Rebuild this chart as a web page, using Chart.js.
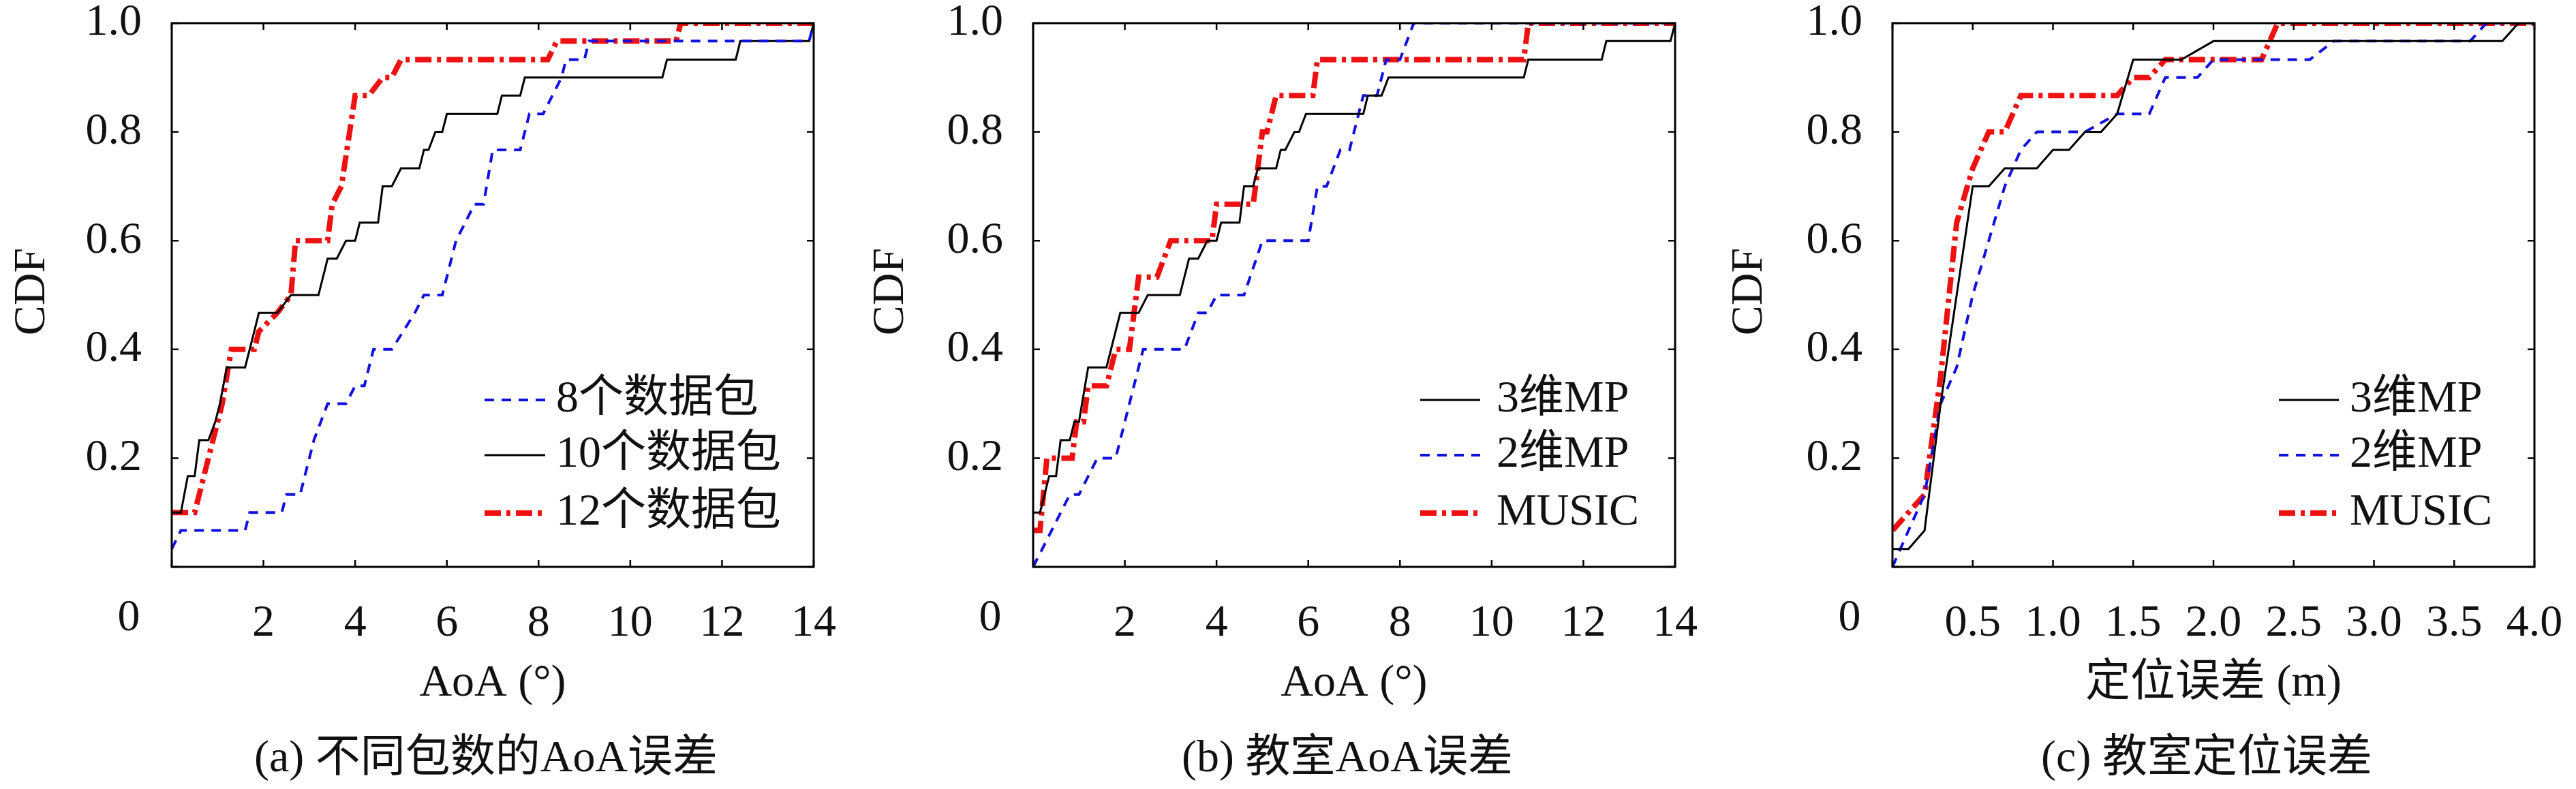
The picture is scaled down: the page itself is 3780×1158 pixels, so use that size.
<!DOCTYPE html>
<html lang="zh">
<head>
<meta charset="UTF-8">
<title>CDF</title>
<script src="https://cdn.jsdelivr.net/npm/chart.js"></script>
<style>
  body { margin: 0; background: #fff; }
  .wrap { position: relative; width: 3780px; height: 1158px; }
  .wrap div { position: absolute; top: 0; width: 1260px; height: 1158px; }
</style>
</head>
<body>
<div class="wrap">
  <div style="left:0"><canvas id="c1"></canvas></div>
  <div style="left:1260px"><canvas id="c2"></canvas></div>
  <div style="left:2520px"><canvas id="c3"></canvas></div>
</div>
<script>
// (a) 不同包数
const a8x  = [0,0.2,1.6,1.7,2.4,2.5,2.8,3.1,3.4,3.8,4.0,4.2,4.4,4.8,5.3,5.5,5.9,6.2,6.4,6.6,6.8,7.0,7.6,7.8,8.1,8.5,8.6,9.0,9.1,13.9,14];
const a8y  = [0.033,0.067,0.067,0.1,0.1,0.133,0.133,0.233,0.3,0.3,0.333,0.333,0.4,0.4,0.467,0.5,0.5,0.6,0.633,0.667,0.667,0.767,0.767,0.833,0.833,0.9,0.933,0.933,0.967,0.967,1.0];
const a10x = [0,0.2,0.35,0.5,0.6,0.8,0.95,1.05,1.2,1.6,1.8,1.9,2.3,2.6,3.2,3.4,3.6,3.8,4.0,4.1,4.5,4.6,4.8,5.0,5.4,5.5,5.6,5.75,5.9,6.0,7.1,7.2,7.6,7.7,10.7,10.8,12.3,12.4,13.9,14];
const a10y = [0.1,0.1,0.167,0.167,0.233,0.233,0.267,0.3,0.367,0.367,0.433,0.467,0.467,0.5,0.5,0.567,0.567,0.6,0.6,0.633,0.633,0.7,0.7,0.733,0.733,0.767,0.767,0.8,0.8,0.833,0.833,0.867,0.867,0.9,0.9,0.933,0.933,0.967,0.967,1.0];
const a12x = [0,0.5,1.1,1.3,1.8,1.9,2.3,2.6,2.7,3.4,3.5,3.7,4.0,4.3,4.6,4.8,5.0,8.2,8.4,11.0,11.1,14];
const a12y = [0.1,0.1,0.3,0.4,0.4,0.433,0.467,0.5,0.6,0.6,0.667,0.7,0.867,0.867,0.9,0.9,0.933,0.933,0.967,0.967,1.0,1.0];
// (b) 教室AoA
const b3x = [0,0.15,0.35,0.5,0.6,0.8,0.9,1.0,1.2,1.6,1.9,2.3,2.5,3.2,3.4,3.6,3.8,4.0,4.1,4.5,4.6,4.8,4.9,5.3,5.4,5.5,5.7,5.8,5.95,7.2,7.3,7.6,7.75,10.7,10.8,12.4,12.5,13.9,14];
const b3y = [0.1,0.1,0.167,0.167,0.233,0.233,0.267,0.267,0.367,0.367,0.467,0.467,0.5,0.5,0.567,0.567,0.6,0.6,0.633,0.633,0.7,0.7,0.733,0.733,0.767,0.767,0.8,0.8,0.833,0.833,0.867,0.867,0.9,0.9,0.933,0.933,0.967,0.967,1.0];
const b2x = [0,0.2,0.8,1.0,1.4,1.8,2.1,2.4,3.3,3.6,3.8,4.0,4.6,5.0,6.0,6.2,6.4,6.7,6.9,7.2,7.5,7.7,8.0,8.3,14];
const b2y = [0,0.033,0.133,0.133,0.2,0.2,0.3,0.4,0.4,0.467,0.467,0.5,0.5,0.6,0.6,0.7,0.7,0.767,0.767,0.867,0.867,0.933,0.933,1.0,1.0];
const bMx = [0,0.15,0.3,0.85,0.95,1.1,1.2,1.6,1.8,2.1,2.3,2.7,3.0,3.9,4.0,4.8,5.0,5.1,5.3,6.1,6.2,10.7,10.8,14];
const bMy = [0.067,0.067,0.2,0.2,0.267,0.267,0.333,0.333,0.4,0.4,0.533,0.533,0.6,0.6,0.667,0.667,0.8,0.8,0.867,0.867,0.933,0.933,1.0,1.0];
// (c) 教室定位
const c3x = [0,0.1,0.2,0.3,0.5,0.6,0.7,0.9,1.0,1.1,1.2,1.3,1.4,1.5,1.8,2.0,3.8,3.9,4];
const c3y = [0.033,0.033,0.067,0.3,0.7,0.7,0.733,0.733,0.767,0.767,0.8,0.8,0.833,0.933,0.933,0.967,0.967,1.0,1.0];
const c2x = [0,0.1,0.2,0.3,0.4,0.5,0.7,0.8,0.9,1.2,1.4,1.6,1.7,1.9,2.0,2.6,2.75,3.6,3.7,4];
const c2y = [0,0.067,0.133,0.3,0.367,0.5,0.7,0.767,0.8,0.8,0.833,0.833,0.9,0.9,0.933,0.933,0.967,0.967,1.0,1.0];
const cMx = [0,0.1,0.2,0.3,0.4,0.5,0.6,0.7,0.8,1.4,1.5,1.6,1.7,2.3,2.4,4];
const cMy = [0.067,0.1,0.133,0.35,0.633,0.733,0.8,0.8,0.867,0.867,0.9,0.9,0.933,0.933,1.0,1.0];

const yTicks = [0, 0.2, 0.4, 0.6, 0.8, 1.0];

const FONT = "'Liberation Serif', 'Noto Sans CJK SC', serif";
const FS = 66;
const SOLID = { color: '#000', width: 3, dash: [] };
const BLUE = { color: '#1010e0', width: 4, dash: [14, 11] };
const RED = { color: '#ee1111', width: 8, dash: [24, 8, 6, 8] };

const pts = (xs, ys) => xs.map((x, i) => ({ x, y: ys[i] }));

function makePanel(id, opts) {
  const datasets = opts.series.map(s => ({
    label: s.label,
    data: pts(s.x, s.y),
    borderColor: s.style.color,
    borderWidth: s.style.width,
    borderDash: s.style.dash,
    pointRadius: 0,
    fill: false,
    tension: 0
  }));
  const deco = {
    id: 'deco',
    afterDatasetsDraw(chart) {
      const { ctx, chartArea: a, scales } = chart;
      ctx.save();
      ctx.setLineDash([]);
      ctx.strokeStyle = '#000';
      ctx.lineWidth = 3;
      ctx.strokeRect(a.left, a.top, a.right - a.left, a.bottom - a.top);
      ctx.lineWidth = 2.5;
      scales.x.ticks.forEach(t => {
        const p = scales.x.getPixelForValue(t.value);
        ctx.beginPath();
        ctx.moveTo(p, a.bottom); ctx.lineTo(p, a.bottom - 10);
        ctx.moveTo(p, a.top); ctx.lineTo(p, a.top + 10);
        ctx.stroke();
      });
      yTicks.forEach(v => {
        const p = scales.y.getPixelForValue(v);
        ctx.beginPath();
        ctx.moveTo(a.left, p); ctx.lineTo(a.left + 10, p);
        ctx.moveTo(a.right, p); ctx.lineTo(a.right - 10, p);
        ctx.stroke();
      });
      ctx.fillStyle = '#111';
      ctx.font = FS + 'px ' + FONT;
      ctx.textAlign = 'center';
      ctx.textBaseline = 'middle';
      ctx.fillText('0', a.left - 63, 908);
      ctx.fillText(opts.xTitle, (a.left + a.right) / 2, 1004);
      ctx.fillText(opts.caption, (a.left + a.right) / 2 - 10, 1115);
      ctx.save();
      ctx.translate(48, 428);
      ctx.rotate(-Math.PI / 2);
      ctx.fillText('CDF', 0, 0);
      ctx.restore();
      // legend
      const L = opts.legend;
      ctx.textAlign = 'left';
      opts.series.forEach((s, i) => {
        const y = L.rows[i];
        ctx.strokeStyle = s.style.color;
        ctx.lineWidth = s.style.width;
        ctx.setLineDash(s.style.dash);
        ctx.beginPath();
        ctx.moveTo(L.x0, y); ctx.lineTo(L.x1, y);
        ctx.stroke();
        ctx.setLineDash([]);
        ctx.fillText(s.label, L.tx, y);
      });
      ctx.restore();
    }
  };
  new Chart(document.getElementById(id), {
    type: 'line',
    data: { datasets },
    options: {
      responsive: true,
      maintainAspectRatio: false,
      animation: false,
      layout: { padding: { top: 34, right: opts.padRight, bottom: 0, left: 0 } },
      plugins: { legend: { display: false }, tooltip: { enabled: false } },
      scales: {
        x: {
          type: 'linear', min: 0, max: opts.xMax,
          grid: { display: false, drawTicks: false },
          border: { display: false },
          ticks: {
            stepSize: opts.xStep, padding: 44, maxRotation: 0,
            color: '#111', font: { family: FONT, size: FS },
            callback: v => v === 0 ? '' : (opts.xStep < 1 ? v.toFixed(1) : String(v))
          },
          afterFit: s => { s.height = 326; s.paddingLeft = 0; s.paddingRight = 0; }
        },
        y: {
          min: 0, max: 1,
          grid: { display: false, drawTicks: false },
          border: { display: false },
          ticks: {
            stepSize: 0.2, padding: 44,
            color: '#111', font: { family: FONT, size: FS },
            callback: v => v === 0 ? '' : v.toFixed(1)
          },
          afterFit: s => { s.width = opts.axisLeft; s.paddingTop = 0; s.paddingBottom = 0; }
        }
      }
    },
    plugins: [deco]
  });
}

const rows = [587, 668, 753];

makePanel('c1', {
  axisLeft: 252, padRight: 66, xMax: 14, xStep: 2,
  xTitle: 'AoA (°)', caption: '(a) 不同包数的AoA误差',
  legend: { x0: 711, x1: 800, tx: 816, rows },
  series: [
    { label: '8个数据包', x: a8x, y: a8y, style: BLUE },
    { label: '10个数据包', x: a10x, y: a10y, style: SOLID },
    { label: '12个数据包', x: a12x, y: a12y, style: RED }
  ]
});
makePanel('c2', {
  axisLeft: 256, padRight: 62, xMax: 14, xStep: 2,
  xTitle: 'AoA (°)', caption: '(b) 教室AoA误差',
  legend: { x0: 824, x1: 912, tx: 936, rows },
  series: [
    { label: '3维MP', x: b3x, y: b3y, style: SOLID },
    { label: '2维MP', x: b2x, y: b2y, style: BLUE },
    { label: 'MUSIC', x: bMx, y: bMy, style: RED }
  ]
});
makePanel('c3', {
  axisLeft: 257, padRight: 61, xMax: 4, xStep: 0.5,
  xTitle: '定位误差 (m)', caption: '(c) 教室定位误差',
  legend: { x0: 824, x1: 912, tx: 928, rows },
  series: [
    { label: '3维MP', x: c3x, y: c3y, style: SOLID },
    { label: '2维MP', x: c2x, y: c2y, style: BLUE },
    { label: 'MUSIC', x: cMx, y: cMy, style: RED }
  ]
});
</script>
</body>
</html>
